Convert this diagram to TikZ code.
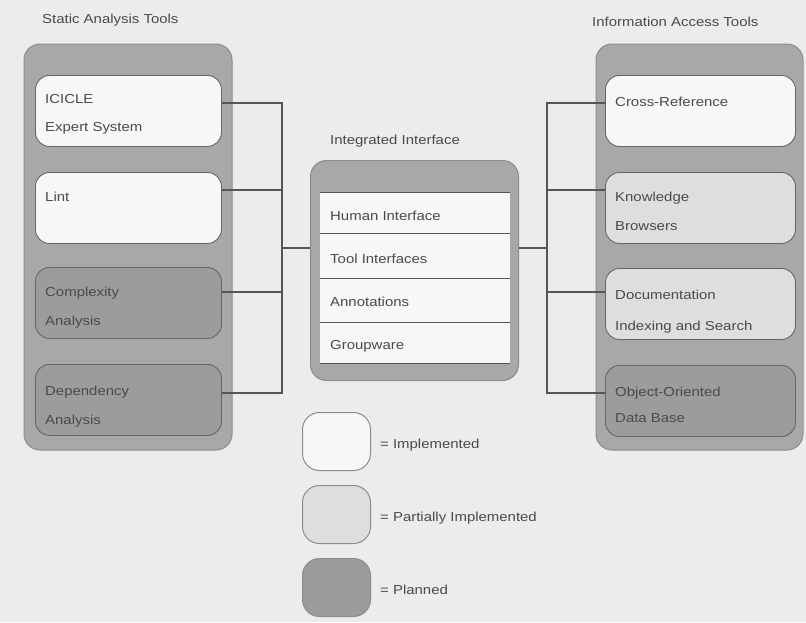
\documentclass[tikz,border=0pt]{standalone}
\usepackage{fontspec}
\setmainfont{Liberation Sans}[FakeStretch=1.15]
\usetikzlibrary{positioning,calc}
\definecolor{bgc}{HTML}{ECECEC}
\definecolor{contc}{HTML}{A8A8A8}
\definecolor{implc}{HTML}{F7F7F7}
\definecolor{partc}{HTML}{DEDEDE}
\definecolor{planc}{HTML}{9C9C9C}
\definecolor{txtc}{HTML}{4A4A4A}
\definecolor{linec}{HTML}{555555}
\tikzset{
  container/.style={draw=black!45, line width=1pt, fill=contc, rounded corners=16pt},
  toolbox/.style={draw=black!60, line width=0.9pt, rounded corners=14pt, minimum width=186pt, minimum height=71pt, inner sep=0pt},
  impl/.style={toolbox, fill=implc},
  part/.style={toolbox, fill=partc},
  plan/.style={toolbox, fill=planc},
  lbl/.style={anchor=west, text=txtc, font=\fontsize{13}{15}\selectfont, inner sep=0pt},
  conn/.style={draw=linec, line width=1.1pt},
  legbox/.style={draw=black!45, line width=1pt, rounded corners=17pt, minimum width=68pt, minimum height=58pt, inner sep=0pt},
}
\begin{document}
\begin{tikzpicture}[x=1pt, y=-1pt]
\fill[bgc] (0,0) rectangle (806,622);
\useasboundingbox (0,0) rectangle (806,622);

% titles
\node[lbl] (tleft) at (42,20) {Static Analysis Tools};
\node[lbl] (tright) at (592,22) {Information Access Tools};
\node[lbl] (tmid) at (330,141) {Integrated Interface};

% containers
\draw[container] (24,44) rectangle (232,450);
\draw[container] (596,44) rectangle (803,450);

% junctions
\coordinate (jl) at (282,248);
\coordinate (jr) at (547,248);

% left boxes
\node[impl, anchor=north west] (icicle) at (35,75) {};
\node[impl, anchor=north west] (lint) at (35,172) {};
\node[plan, anchor=north west] (cplx) at (35,267) {};
\node[plan, anchor=north west] (dep) at (35,364) {};

% right boxes
\node[impl, anchor=north west, minimum width=190pt] (xref) at (605,75) {};
\node[part, anchor=north west, minimum width=190pt] (know) at (605,172) {};
\node[part, anchor=north west, minimum width=190pt] (doc) at (605,268) {};
\node[plan, anchor=north west, minimum width=190pt] (oodb) at (605,365) {};

% box texts
\node[lbl] at (45,99) {ICICLE};
\node[lbl] at (45,128) {Expert System};
\node[lbl] at (45,197) {Lint};
\node[lbl] at (45,293) {Complexity};
\node[lbl] at (45,322) {Analysis};
\node[lbl] at (45,392) {Dependency};
\node[lbl] at (45,421) {Analysis};

\node[lbl] at (615,102) {Cross-Reference};
\node[lbl] at (615,198) {Knowledge};
\node[lbl] at (615,226) {Browsers};
\node[lbl] at (615,295) {Documentation};
\node[lbl] at (615,327) {Indexing and Search};
\node[lbl] at (615,393) {Object-Oriented};
\node[lbl] at (615,418) {Data Base};

% centre box
\node[draw=black!45, line width=1pt, fill=contc, rounded corners=16pt, anchor=north west,
      minimum width=208pt, minimum height=220pt, inner sep=0pt] (ii) at (310,160) {};
\fill[implc] (320,192) rectangle (510,363);
\draw[linec, line width=0.9pt] (320,192) -- (510,192);
\draw[linec, line width=0.9pt] (320,233) -- (510,233);
\draw[linec, line width=0.9pt] (320,278) -- (510,278);
\draw[linec, line width=0.9pt] (320,322) -- (510,322);
\draw[linec, line width=0.9pt] (320,363) -- (510,363);
\node[lbl] at (330,216) {Human Interface};
\node[lbl] at (330,259) {Tool Interfaces};
\node[lbl] at (330,302) {Annotations};
\node[lbl] at (330,346) {Groupware};

% connectors left
\draw[conn] ([yshift=-28pt]icicle.north east) -| (jl);
\draw[conn] ([yshift=-18pt]lint.north east) -| (jl);
\draw[conn] ([yshift=-25pt]cplx.north east) -| (jl);
\draw[conn] ([yshift=-29pt]dep.north east) -| (jl);
\draw[conn] (jl) -- (ii.west |- jl);

% connectors right
\draw[conn] ([yshift=-28pt]xref.north west) -| (jr);
\draw[conn] ([yshift=-18pt]know.north west) -| (jr);
\draw[conn] ([yshift=-24pt]doc.north west) -| (jr);
\draw[conn] ([yshift=-28pt]oodb.north west) -| (jr);
\draw[conn] (jr) -- (ii.east |- jr);

% legend
\node[legbox, fill=implc, anchor=north west] (lg1) at (302,412) {};
\node[legbox, fill=partc, anchor=north west] (lg2) at (302,485) {};
\node[legbox, fill=planc, anchor=north west] (lg3) at (302,558) {};
\node[lbl] at (380,445) {= Implemented};
\node[lbl] at (380,518) {= Partially Implemented};
\node[lbl] at (380,590) {= Planned};
\end{tikzpicture}
\end{document}
